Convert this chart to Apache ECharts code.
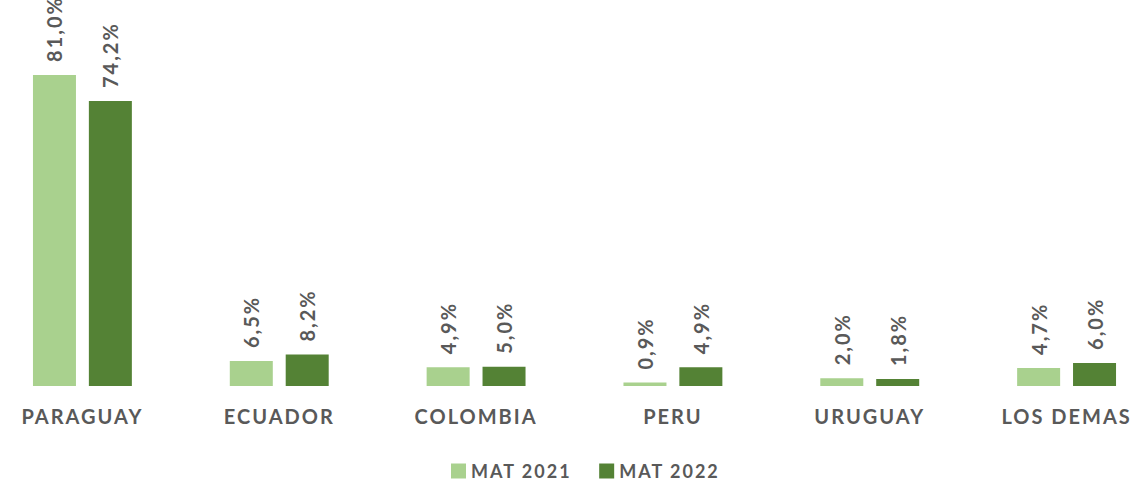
<!DOCTYPE html>
<html><head><meta charset="utf-8">
<script src="https://cdn.jsdelivr.net/npm/echarts@6/dist/echarts.min.js"></script>
<style>html,body{margin:0;padding:0;background:#fff}#c{width:1132px;height:479px}
#c svg text{letter-spacing:2px}</style>
</head><body><div id="c"></div>
<script>
const categories = ["PARAGUAY", "ECUADOR", "COLOMBIA", "PERU", "URUGUAY", "LOS DEMAS"];
const seriesNames = ["MAT 2021", "MAT 2022"];
const mat2021 = [81.0, 6.5, 4.9, 0.9, 2.0, 4.7];
const mat2022 = [74.2, 8.2, 5.0, 4.9, 1.8, 6.0];
const colors = ["#A9D18E", "#548235"];

const chart = echarts.init(document.getElementById('c'), null, { renderer: 'svg' });
const fmt = p => p.value.toFixed(1).replace('.', ',') + '%';
const labelCfg = {
  show: true, position: 'top', rotate: 90, align: 'left', verticalAlign: 'middle',
  distance: 13, formatter: fmt, color: '#595959', fontFamily: 'Lato', fontWeight: 'bold', fontSize: 20
};
chart.setOption({
  animation: false,
  color: colors,
  legend: {
    data: seriesNames, top: 462, left: 451, padding: 0, itemWidth: 15, itemHeight: 15, itemGap: 43,
    icon: 'rect',
    textStyle: { color: '#595959', fontFamily: 'Lato', fontWeight: 'bold', fontSize: 18, lineHeight: 16 }
  },
  grid: { left: -16, right: -33, top: 2, height: 384, containLabel: false, outerBoundsMode: 'none' },
  xAxis: {
    type: 'category', data: categories,
    axisLine: { show: false }, axisTick: { show: false },
    axisLabel: { color: '#595959', fontFamily: 'Lato', fontWeight: 'bold', fontSize: 20, margin: 20, interval: 0, hideOverlap: false }
  },
  yAxis: { type: 'value', min: 0, max: 100, show: false, splitLine: { show: false } },
  series: [
    { name: seriesNames[0], type: 'bar', data: mat2021, barWidth: 43, barGap: '30%', label: labelCfg },
    { name: seriesNames[1], type: 'bar', data: mat2022, barWidth: 43, label: labelCfg }
  ]
});
</script></body></html>
